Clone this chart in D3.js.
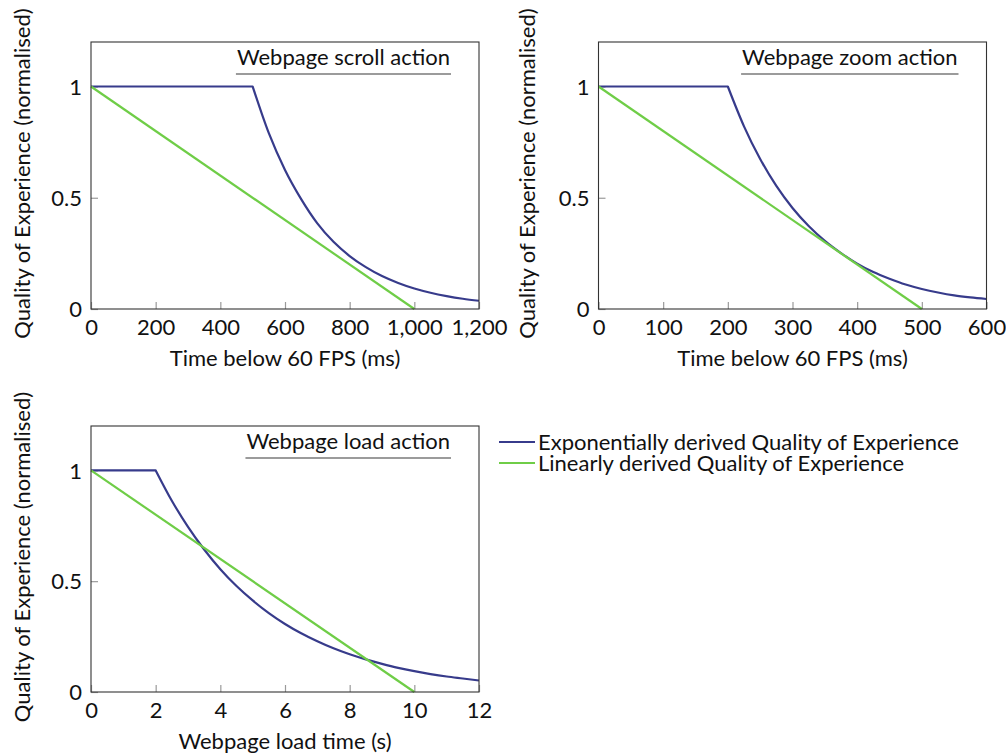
<!DOCTYPE html>
<html>
<head>
<meta charset="utf-8">
<script src="https://cdn.jsdelivr.net/npm/d3@7"></script>
<style>
  html, body { margin: 0; padding: 0; background: #fff; }
  svg text { font-family: Lato, "DejaVu Sans", sans-serif; fill: #111; }
</style>
</head>
<body>
<svg id="chart" width="1006" height="756"></svg>
<script>
// ---- data ----
// Webpage scroll action (time below 60 FPS, ms)
const scrollExpX = [0, 500, 550, 600, 650, 700, 750, 800, 850, 900, 950, 1000, 1050, 1100, 1150, 1200];
const scrollExpY = [1, 1, 0.79, 0.625, 0.494, 0.385, 0.302, 0.238, 0.188, 0.148, 0.117, 0.092, 0.073, 0.058, 0.046, 0.037];
const scrollLinX = [0, 1000];
const scrollLinY = [1, 0];
const scrollTicks = [0, 200, 400, 600, 800, 1000, 1200];

// Webpage zoom action (time below 60 FPS, ms)
const zoomExpX = [0, 200, 225, 250, 275, 300, 325, 350, 375, 400, 425, 450, 475, 500, 525, 550, 575, 600];
const zoomExpY = [1, 1, 0.821, 0.674, 0.553, 0.454, 0.373, 0.306, 0.251, 0.204, 0.166, 0.136, 0.11, 0.09, 0.074, 0.061, 0.052, 0.045];
const zoomLinX = [0, 500];
const zoomLinY = [1, 0];
const zoomTicks = [0, 100, 200, 300, 400, 500, 600];

// Webpage load action (load time, s)
const loadExpX = [0, 2, 2.5, 3, 3.5, 4, 4.5, 5, 5.5, 6, 6.5, 7, 7.5, 8, 8.5, 9, 9.5, 10, 10.5, 11, 11.5, 12];
const loadExpY = [1, 1, 0.863, 0.745, 0.643, 0.554, 0.478, 0.413, 0.356, 0.307, 0.265, 0.229, 0.197, 0.170, 0.147, 0.127, 0.109, 0.094, 0.081, 0.070, 0.061, 0.052];
const loadLinX = [0, 10];
const loadLinY = [1, 0];
const loadTicks = [0, 2, 4, 6, 8, 10, 12];

const qoeTicks = [0, 0.5, 1];
const seriesNames = ["Exponentially derived Quality of Experience", "Linearly derived Quality of Experience"];
const seriesColors = ["#373b8b", "#6fcd47"];

// ---- layout ----
const FS = 22;
const panels = [
  { x0: 91, x1: 479, y0: 42, y1: 309, xmax: 1200, ticks: scrollTicks,
    ex: scrollExpX, ey: scrollExpY, lx: scrollLinX, ly: scrollLinY,
    title: "Webpage scroll action", xlabel: "Time below 60 FPS (ms)", ylabelX: 22 },
  { x0: 598.5, x1: 986.5, y0: 42, y1: 309, xmax: 600, ticks: zoomTicks,
    ex: zoomExpX, ey: zoomExpY, lx: zoomLinX, ly: zoomLinY,
    title: "Webpage zoom action", xlabel: "Time below 60 FPS (ms)", ylabelX: 527 },
  { x0: 91, x1: 479, y0: 426, y1: 692, xmax: 12, ticks: loadTicks,
    ex: loadExpX, ey: loadExpY, lx: loadLinX, ly: loadLinY,
    title: "Webpage load action", xlabel: "Webpage load time (s)", ylabelX: 22 }
];

const svg = d3.select("#chart");

panels.forEach(p => {
  const x = d3.scaleLinear().domain([0, p.xmax]).range([p.x0, p.x1]);
  const y = d3.scaleLinear().domain([0, 1.2]).range([p.y1, p.y0]);
  const g = svg.append("g");

  // ticks (inside the plot box)
  const xAxis = g.append("g").attr("transform", `translate(0,${p.y1})`)
    .call(d3.axisBottom(x).tickValues(p.ticks).tickSizeInner(-7).tickSizeOuter(0)
      .tickFormat(d3.format(",")));
  const yAxis = g.append("g").attr("transform", `translate(${p.x0},0)`)
    .call(d3.axisLeft(y).tickValues(qoeTicks).tickSizeInner(-7).tickSizeOuter(0)
      .tickFormat(d => String(d)));
  [xAxis, yAxis].forEach(a => {
    a.select(".domain").remove();
    a.selectAll(".tick line").attr("stroke", "#9a9a9a").attr("stroke-width", 1.2);
    a.selectAll(".tick text").attr("font-size", FS).attr("fill", "#111")
      .style("font-family", "Lato, 'DejaVu Sans', sans-serif");
  });
  xAxis.selectAll(".tick text").attr("y", 18).attr("dy", "0.35em");
  yAxis.selectAll(".tick text").attr("x", -9).attr("dy", "0.35em");

  // data lines
  const lineLin = d3.line().x(d => x(d[0])).y(d => y(d[1]));
  const lineMono = d3.line().x(d => x(d[0])).y(d => y(d[1])).curve(d3.curveMonotoneX);
  const expPts = p.ex.map((v, i) => [v, p.ey[i]]);
  const flat = expPts.slice(0, 2);
  const decay = expPts.slice(1);
  const expPath = lineLin(flat) + lineMono(decay).replace(/^M/, "L");
  const linPts = p.lx.map((v, i) => [v, p.ly[i]]);

  g.append("path").attr("d", expPath).attr("fill", "none")
    .attr("stroke", seriesColors[0]).attr("stroke-width", 2.2).attr("stroke-linejoin", "round");
  g.append("path").attr("d", lineLin(linPts)).attr("fill", "none")
    .attr("stroke", seriesColors[1]).attr("stroke-width", 2.2);

  // plot frame
  g.append("rect").attr("x", p.x0).attr("y", p.y0)
    .attr("width", p.x1 - p.x0).attr("height", p.y1 - p.y0)
    .attr("fill", "none").attr("stroke", "#333").attr("stroke-width", 1.1);

  // underlined title in the top-right corner
  const t = g.append("text").attr("x", p.x1 - 29).attr("y", p.y0 + 23)
    .attr("text-anchor", "end").attr("font-size", FS).text(p.title);
  const tw = t.node().getComputedTextLength();
  g.append("line").attr("x1", p.x1 - 29 - tw - 1).attr("x2", p.x1 - 28)
    .attr("y1", p.y0 + 32).attr("y2", p.y0 + 32)
    .attr("stroke", "#7a7a7a").attr("stroke-width", 1.6);

  // axis labels
  g.append("text").attr("x", (p.x0 + p.x1) / 2).attr("y", p.y1 + 49).attr("dy", "0.35em")
    .attr("text-anchor", "middle").attr("font-size", FS).text(p.xlabel);
  g.append("text")
    .attr("transform", `translate(${p.ylabelX},${(p.y0 + p.y1) / 2 - 2}) rotate(-90)`)
    .attr("dy", "0.35em").attr("text-anchor", "middle").attr("font-size", FS)
    .text("Quality of Experience (normalised)");
});

// legend
const legend = svg.append("g").attr("transform", "translate(499,442)");
seriesNames.forEach((name, i) => {
  const row = legend.append("g").attr("transform", `translate(0,${i * 21})`);
  row.append("line").attr("x1", 0).attr("x2", 36).attr("y1", 0).attr("y2", 0)
    .attr("stroke", seriesColors[i]).attr("stroke-width", 2.2);
  row.append("text").attr("x", 39).attr("dy", "0.35em").attr("font-size", FS).text(name);
});
</script>
</body>
</html>
